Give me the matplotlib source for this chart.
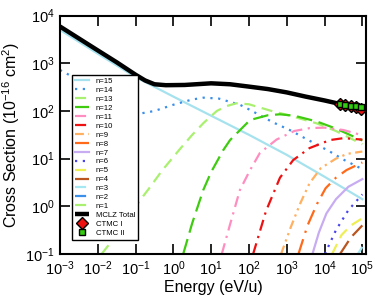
import matplotlib
matplotlib.use("Agg")
import matplotlib.pyplot as plt
from matplotlib.ticker import LogLocator, LogFormatterSciNotation, NullLocator

plt.rcParams['font.family'] = ['Liberation Sans', 'DejaVu Sans']
plt.rcParams['mathtext.fontset'] = 'custom'
plt.rcParams['mathtext.rm'] = 'Liberation Sans'
plt.rcParams['mathtext.it'] = 'Liberation Sans:italic'
plt.rcParams['mathtext.bf'] = 'Liberation Sans:bold'

# ---------------- data ----------------
total_E = [1e-3, 1e-2, 3.16e-2, 0.1, 0.178, 0.316, 0.631, 2.0, 10, 31.6, 100, 316,
           1000, 3160, 1e4, 3.16e4, 8.7e4]
total_sigma = [5900, 1860, 1050, 575, 437, 363, 347, 351, 380, 363, 324, 288,
               245, 200, 166, 135, 119]

n15_E = [1e-3, 1e-2, 0.1, 1, 10, 100, 1e3, 1e4, 1e5]
n15_sigma = [5010, 1585, 513, 200, 79.4, 31.6, 12.0, 4.17, 1.41]

n14_E = [1e-3, 1e-2, 3.16e-2, 0.1, 0.141, 0.316, 1, 3.16, 6.31, 15.8, 57.5, 107,
         437, 1200, 3160, 1.38e4, 3.16e4, 1e5]
n14_sigma = [724, 269, 162, 100, 89, 100, 135, 174, 190, 182, 135, 105,
             57.5, 39.8, 26.3, 14.1, 9.55, 6.03]

n13_E = [0.0126, 0.0251, 0.0631, 0.132, 0.240, 0.501, 1.48, 3.16, 6.31, 14.1, 25.1,
         46.8, 100, 437, 1000, 6170, 2.0e4, 1e5]
n13_sigma = [0.1, 0.2, 0.562, 1.35, 2.51, 5.62, 15.8, 31.6, 56.2, 100, 126,
             145, 138, 97.7, 83.2, 55.0, 38.0, 20.0]

n12_E = [1.82, 3.16, 6.17, 10, 20.9, 31.6, 107, 316, 661, 1585, 6170, 2.0e4, 1e5]
n12_sigma = [0.1, 0.447, 2.19, 5.25, 15.1, 24.5, 64.6, 81.3, 85.1, 79.4, 60.3, 42.7, 24.0]

n11_E = [19.1, 31.6, 57.5, 107, 195, 537, 1585, 4070, 1e4, 3.16e4, 1e5]
n11_sigma = [0.1, 0.417, 2.19, 5.75, 13.2, 25.1, 38.0, 43.7, 44.7, 39.8, 30.9]

n10_E = [129, 282, 661, 1480, 3980, 1.38e4, 3.16e4, 1e5]
n10_sigma = [0.1, 0.794, 3.98, 9.33, 16.6, 24.5, 26.9, 25.1]

n9_E = [708, 1260, 2240, 3980, 7940, 2.0e4, 3.98e4, 1e5]
n9_sigma = [0.1, 0.355, 1.12, 3.02, 6.31, 10.0, 12.6, 14.1]

n8_E = [2040, 3550, 6310, 1.07e4, 2.0e4, 3.8e4, 1e5]
n8_sigma = [0.1, 0.398, 1.12, 2.40, 3.98, 5.75, 8.32]

n7_E = [4790, 7080, 1.12e4, 2.0e4, 4.27e4, 1e5]
n7_sigma = [0.1, 0.282, 0.708, 1.41, 2.57, 3.72]

n6_E = [1.02e4, 2.0e4, 4.27e4, 1e5]
n6_sigma = [0.1, 0.316, 0.832, 1.78]

n5_E = [1.58e4, 2.82e4, 5.01e4, 1e5]
n5_sigma = [0.1, 0.251, 0.398, 0.562]

n4_E = [2.57e4, 5.01e4, 1e5]
n4_sigma = [0.1, 0.224, 0.398]

n3_E = [7.59e4, 1e5]
n3_sigma = [0.1, 0.141]

n2_E = [5e4, 1e5]
n2_sigma = [0.02, 0.05]

n1_E = [5e4, 1e5]
n1_sigma = [0.005, 0.01]

ctmc1_E = [2.5e4, 3.5e4, 5e4, 7e4, 9.5e4]
ctmc1_sigma = [138, 132, 127, 120, 112]
ctmc2_E = [2.5e4, 3.5e4, 5e4, 7e4, 9.5e4]
ctmc2_sigma = [140, 135, 130, 125, 120]

# ---------------- styles ----------------
series = [
    ("n=15", n15_E, n15_sigma, "#a6e2ee", "-"),
    ("n=14", n14_E, n14_sigma, "#3a8fe8", (0, (1, 2.5))),
    ("n=13", n13_E, n13_sigma, "#aaf070", (0, (5, 3))),
    ("n=12", n12_E, n12_sigma, "#3fcc10", (0, (7, 3))),
    ("n=11", n11_E, n11_sigma, "#ff8ec0", (0, (5, 2.5, 1, 2.5))),
    ("n=10", n10_E, n10_sigma, "#ee1111", (0, (5, 2.5, 1, 2.5))),
    ("n=9", n9_E, n9_sigma, "#ffb060", (0, (4, 2, 1, 2, 1, 2))),
    ("n=8", n8_E, n8_sigma, "#ff6a1a", (0, (7, 3, 1, 3))),
    ("n=7", n7_E, n7_sigma, "#c8acf2", "-"),
    ("n=6", n6_E, n6_sigma, "#4a44ee", (0, (1, 2.5))),
    ("n=5", n5_E, n5_sigma, "#eeee55", (0, (5, 3))),
    ("n=4", n4_E, n4_sigma, "#bb5520", (0, (7, 3))),
    ("n=3", n3_E, n3_sigma, "#a6e8f2", (0, (5, 2.5, 1, 2.5))),
    ("n=2", n2_E, n2_sigma, "#3a8fe8", (0, (5, 2.5, 1, 2.5))),
    ("n=1", n1_E, n1_sigma, "#aaf070", (0, (5, 2.5, 1, 2.5))),
]

fig = plt.figure(figsize=(3.78, 3.0), dpi=100)
ax = fig.add_axes([60/378, 1-254/300, 306/378, 238.4/300])

for label, E, s, c, ls in series:
    ax.plot(E, s, color=c, linestyle=ls, linewidth=1.6, label=label)

ax.plot(total_E, total_sigma, color="black", linewidth=3.2, label="MCLZ Total",
        solid_capstyle="butt")
ax.plot(ctmc1_E, ctmc1_sigma, linestyle="none", marker="D", markersize=6.5,
        markerfacecolor="#ee1111", markeredgecolor="black", markeredgewidth=1.0,
        label="CTMC I")
ax.plot(ctmc2_E, ctmc2_sigma, linestyle="none", marker="s", markersize=4.5,
        markerfacecolor="#33cc11", markeredgecolor="black", markeredgewidth=1.0,
        label="CTMC II")

ax.set_xscale("log")
ax.set_yscale("log")
ax.set_xlim(1e-3, 1.25e5)
ax.set_ylim(1e-1, 1e4)
ax.xaxis.set_major_locator(LogLocator(base=10, numticks=20))
ax.yaxis.set_major_locator(LogLocator(base=10, numticks=20))
ax.xaxis.set_minor_locator(NullLocator())
ax.yaxis.set_minor_locator(NullLocator())
ax.xaxis.set_major_formatter(LogFormatterSciNotation())
ax.yaxis.set_major_formatter(LogFormatterSciNotation())

ax.tick_params(which="major", direction="in", length=7.5, width=1.2,
               top=True, right=True, labelsize=10.5, pad=4)
for sp in ax.spines.values():
    sp.set_linewidth(1.5)

ax.set_xlabel("Energy (eV/u)", fontsize=11.5, labelpad=1)
ax.set_ylabel("Cross Section (10$^{-16}$ cm$^{2}$)", fontsize=11.5, labelpad=2)

leg = ax.legend(loc="upper left", bbox_to_anchor=(0.039, 0.751), borderaxespad=0,
                fontsize=5.6, labelspacing=0.19, handlelength=1.8, handletextpad=0.9,
                borderpad=0.35, frameon=True, fancybox=False, framealpha=1,
                edgecolor="black", numpoints=1)
leg.get_frame().set_linewidth(1.0)

fig.savefig("out.png", dpi=100)
